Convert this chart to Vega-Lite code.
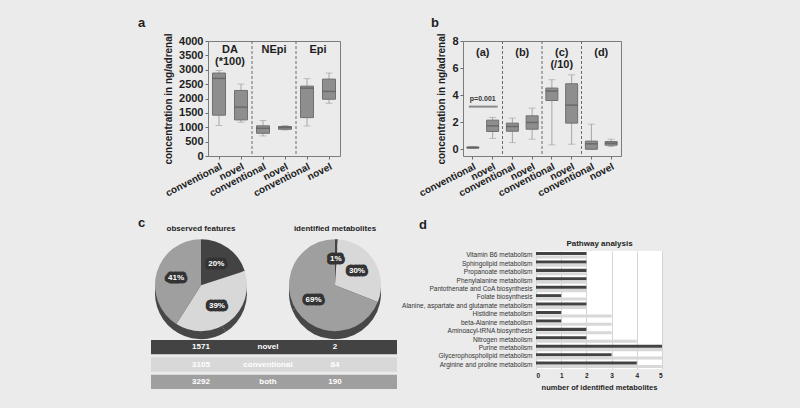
{
  "$schema": "https://vega.github.io/schema/vega-lite/v6.json",
  "background": "#ebebeb",
  "padding": {"left": 137, "top": 16, "right": 137, "bottom": 17},
  "config": {
    "font": "Liberation Sans",
    "view": {"stroke": null},
    "axis": {"labelColor": "#1e1e1e", "titleColor": "#1e1e1e", "tickColor": "#6e6e6e", "domainColor": "#6e6e6e"},
    "axisYQuantitative": {"labelOverlap": false, "format": "d", "grid": false, "domain": false, "tickSize": 3, "labelFontSize": 11, "labelFontWeight": "bold", "titleFontSize": 10, "titleFontWeight": "bold", "labelPadding": 2, "titlePadding": 5},
    "title": {"color": "#1e1e1e", "fontSize": 13, "fontWeight": "bold", "anchor": "start", "frame": "group", "baseline": "alphabetic"}
  },
  "spacing": 18,
  "vconcat": [
    {
      "bounds": "flush",
      "spacing": 123,
      "hconcat": [
        {
          "width": 132, "height": 115,
          "view": {"stroke": "#7c7c7c"},
          "title": {"text": "a", "dx": -70, "offset": 3},
          "data": {"values": [
            {"id": "DA|conventional", "lo": 1060, "q1": 1420, "med": 2700, "q3": 2885, "hi": 2975},
            {"id": "DA|novel", "lo": 1175, "q1": 1255, "med": 1700, "q3": 2280, "hi": 2500},
            {"id": "NEpi|conventional", "lo": 700, "q1": 790, "med": 965, "q3": 1050, "hi": 1235},
            {"id": "NEpi|novel", "lo": 905, "q1": 930, "med": 990, "q3": 1025, "hi": 1060},
            {"id": "Epi|conventional", "lo": 1045, "q1": 1335, "med": 2360, "q3": 2430, "hi": 2690},
            {"id": "Epi|novel", "lo": 1835, "q1": 1975, "med": 2245, "q3": 2675, "hi": 2885}
          ]},
          "encoding": {
            "x": {"field": "id", "type": "nominal",
              "scale": {"domain": ["DA|conventional", "DA|novel", "NEpi|conventional", "NEpi|novel", "Epi|conventional", "Epi|novel"], "paddingInner": 0, "paddingOuter": 0},
              "axis": {"title": null, "labelExpr": "split(datum.value, '|')[1]", "labelAngle": -27, "labelFontSize": 10, "labelFontWeight": "bold", "tickSize": 3, "domain": false, "labelPadding": 2}}
          },
          "layer": [
            {"mark": {"type": "rule", "color": "#a6a6a6", "strokeWidth": 1},
             "encoding": {
               "y": {"field": "lo", "type": "quantitative", "scale": {"domain": [0, 4000], "nice": false},
                 "axis": {"title": "concentration in ng/adrenal", "values": [0, 500, 1000, 1500, 2000, 2500, 3000, 3500, 4000], "labelOverlap": false}},
               "y2": {"field": "hi"}}},
            {"mark": {"type": "tick", "color": "#a6a6a6", "size": 7, "thickness": 1},
             "encoding": {"y": {"field": "lo", "type": "quantitative", "axis": null}}},
            {"mark": {"type": "tick", "color": "#a6a6a6", "size": 7, "thickness": 1},
             "encoding": {"y": {"field": "hi", "type": "quantitative", "axis": null}}},
            {"mark": {"type": "bar", "size": 13, "color": "#8e8e8e", "stroke": "#707070", "strokeWidth": 1},
             "encoding": {"y": {"field": "q1", "type": "quantitative", "axis": null}, "y2": {"field": "q3"}}},
            {"mark": {"type": "tick", "color": "#5a5a5a", "size": 13, "thickness": 1.5},
             "encoding": {"y": {"field": "med", "type": "quantitative", "axis": null}}},
            {"data": {"values": [{"id": "DA|novel"}, {"id": "NEpi|novel"}]},
             "mark": {"type": "rule", "color": "#6a6a6a", "strokeDash": [3, 2], "strokeWidth": 1, "xOffset": 11}},
            {"data": {"values": [{"id": "DA|conventional", "label": "DA\n(*100)"}, {"id": "NEpi|conventional", "label": "NEpi"}, {"id": "Epi|conventional", "label": "Epi"}]},
             "mark": {"type": "text", "fontSize": 11, "fontWeight": "bold", "baseline": "top", "lineBreak": "\n", "lineHeight": 12, "color": "#1e1e1e", "xOffset": 11},
             "encoding": {"y": {"datum": 3880, "type": "quantitative", "axis": null}, "text": {"field": "label"}}}
          ],
          "resolve": {"axis": {"y": "independent"}}
        },
        {
          "width": 158, "height": 115,
          "view": {"stroke": "#7c7c7c"},
          "title": {"text": "b", "dx": -32, "offset": 3},
          "data": {"values": [
            {"id": "(a)|conventional", "lo": 0.07, "q1": 0.08, "med": 0.12, "q3": 0.17, "hi": 0.19},
            {"id": "(a)|novel", "lo": 0.8, "q1": 1.31, "med": 1.73, "q3": 2.15, "hi": 2.35},
            {"id": "(b)|conventional", "lo": 0.49, "q1": 1.33, "med": 1.68, "q3": 1.93, "hi": 2.3},
            {"id": "(b)|novel", "lo": 0.74, "q1": 1.48, "med": 1.98, "q3": 2.47, "hi": 3.04},
            {"id": "(c)|conventional", "lo": 0.32, "q1": 3.6, "med": 4.3, "q3": 4.52, "hi": 5.14},
            {"id": "(c)|novel", "lo": 0.37, "q1": 1.93, "med": 3.26, "q3": 4.84, "hi": 5.5},
            {"id": "(d)|conventional", "lo": 0, "q1": 0, "med": 0.4, "q3": 0.6, "hi": 1.85},
            {"id": "(d)|novel", "lo": 0.2, "q1": 0.3, "med": 0.44, "q3": 0.57, "hi": 0.74}
          ]},
          "encoding": {
            "x": {"field": "id", "type": "nominal",
              "scale": {"domain": ["(a)|conventional", "(a)|novel", "(b)|conventional", "(b)|novel", "(c)|conventional", "(c)|novel", "(d)|conventional", "(d)|novel"], "paddingInner": 0, "paddingOuter": 0},
              "axis": {"title": null, "labelExpr": "split(datum.value, '|')[1]", "labelAngle": -27, "labelFontSize": 10, "labelFontWeight": "bold", "tickSize": 3, "domain": false, "labelPadding": 2}}
          },
          "layer": [
            {"mark": {"type": "rule", "color": "#a6a6a6", "strokeWidth": 1},
             "encoding": {
               "y": {"field": "lo", "type": "quantitative", "scale": {"domain": [-0.5, 8], "nice": false, "zero": false},
                 "axis": {"title": "concentration in ng/adrenal", "values": [0, 2, 4, 6, 8], "labelOverlap": false}},
               "y2": {"field": "hi"}}},
            {"mark": {"type": "tick", "color": "#a6a6a6", "size": 7, "thickness": 1},
             "encoding": {"y": {"field": "lo", "type": "quantitative", "axis": null}}},
            {"mark": {"type": "tick", "color": "#a6a6a6", "size": 7, "thickness": 1},
             "encoding": {"y": {"field": "hi", "type": "quantitative", "axis": null}}},
            {"mark": {"type": "bar", "size": 12, "color": "#8e8e8e", "stroke": "#707070", "strokeWidth": 1},
             "encoding": {"y": {"field": "q1", "type": "quantitative", "axis": null}, "y2": {"field": "q3"}}},
            {"mark": {"type": "tick", "color": "#5a5a5a", "size": 12, "thickness": 1.5},
             "encoding": {"y": {"field": "med", "type": "quantitative", "axis": null}}},
            {"data": {"values": [{"id": "(a)|novel"}, {"id": "(b)|novel"}, {"id": "(c)|novel"}]},
             "mark": {"type": "rule", "color": "#6a6a6a", "strokeDash": [3, 2], "strokeWidth": 1, "xOffset": 9.875}},
            {"data": {"values": [{"id": "(a)|conventional", "label": "(a)"}, {"id": "(b)|conventional", "label": "(b)"}, {"id": "(c)|conventional", "label": "(c)\n(/10)"}, {"id": "(d)|conventional", "label": "(d)"}]},
             "mark": {"type": "text", "fontSize": 11, "fontWeight": "bold", "baseline": "top", "lineBreak": "\n", "lineHeight": 12, "color": "#1e1e1e", "xOffset": 9.875},
             "encoding": {"y": {"datum": 7.58, "type": "quantitative", "axis": null}, "text": {"field": "label"}}},
            {"data": {"values": [{"id": "(a)|conventional", "test": "p=0.001"}]},
             "mark": {"type": "rule", "color": "#8a8a8a", "strokeWidth": 2, "xOffset": -4, "x2Offset": 5},
             "encoding": {"x2": {"datum": "(a)|novel"}, "y": {"datum": 3.15, "type": "quantitative", "axis": null}}},
            {"data": {"values": [{"id": "(a)|conventional", "test": "p=0.001"}]},
             "mark": {"type": "text", "fontSize": 7, "fontWeight": "bold", "baseline": "middle", "color": "#333", "xOffset": 9.875},
             "encoding": {"y": {"datum": 3.7, "type": "quantitative", "axis": null}, "text": {"field": "test"}}}
          ],
          "resolve": {"axis": {"y": "independent"}}
        }
      ]
    },
    {
      "bounds": "flush",
      "spacing": 139,
      "hconcat": [
        {
          "width": 189, "height": 138,
          "title": {"text": "c", "dx": -70, "offset": -5},
          "data": {"values": [
            {"row": "novel", "observed": "1571", "identified": "2", "obsPct": 20, "idPct": 1, "obsLabel": "20%", "idLabel": "1%"},
            {"row": "conventional", "observed": "3105", "identified": "84", "obsPct": 39, "idPct": 30, "obsLabel": "39%", "idLabel": "30%"},
            {"row": "both", "observed": "3292", "identified": "190", "obsPct": 41, "idPct": 69, "obsLabel": "41%", "idLabel": "69%"}
          ]},
          "layer": [
            {"mark": {"type": "rect", "xOffset": -50, "x2Offset": 62},
             "encoding": {
               "x": {"datum": "observed features", "type": "nominal", "scale": {"type": "point", "domain": ["observed features", "category", "identified metabolites"], "range": [-7, 127], "padding": 0}, "axis": null},
               "x2": {"datum": "identified metabolites"},
               "y": {"field": "row", "type": "nominal", "scale": {"type": "band", "domain": ["novel", "conventional", "both"], "range": [89, 138], "paddingInner": 0.176, "paddingOuter": 0}, "axis": null},
               "color": {"field": "row", "type": "nominal", "scale": {"domain": ["novel", "conventional", "both"], "range": ["#434343", "#d8d8d8", "#9f9f9f"]}, "legend": null}}},
            {"mark": {"type": "text", "color": "white", "fontSize": 8, "fontWeight": "bold"},
             "encoding": {"x": {"datum": "observed features", "type": "nominal", "axis": null}, "y": {"field": "row", "type": "nominal", "axis": null}, "text": {"field": "observed"}}},
            {"mark": {"type": "text", "color": "white", "fontSize": 8, "fontWeight": "bold"},
             "encoding": {"x": {"datum": "category", "type": "nominal", "axis": null}, "y": {"field": "row", "type": "nominal", "axis": null}, "text": {"field": "row"}}},
            {"mark": {"type": "text", "color": "white", "fontSize": 8, "fontWeight": "bold"},
             "encoding": {"x": {"datum": "identified metabolites", "type": "nominal", "axis": null}, "y": {"field": "row", "type": "nominal", "axis": null}, "text": {"field": "identified"}}},

            {"mark": {"type": "arc", "outerRadius": 46, "color": "#474747", "yOffset": -54},
             "encoding": {"theta": {"field": "obsPct", "type": "quantitative", "stack": true}, "detail": {"field": "row"}, "x": {"datum": "observed features", "type": "nominal", "axis": null}, "y": {"datum": "novel", "type": "nominal", "axis": null}}},
            {"mark": {"type": "arc", "outerRadius": 46, "yOffset": -62},
             "encoding": {"theta": {"field": "obsPct", "type": "quantitative", "stack": true}, "color": {"field": "row", "type": "nominal", "legend": null}, "order": {"field": "row", "sort": "descending"}, "x": {"datum": "observed features", "type": "nominal", "axis": null}, "y": {"datum": "novel", "type": "nominal", "axis": null}}},
            {"mark": {"type": "text", "radius": 26, "yOffset": -62, "fontSize": 8, "fontWeight": "bold", "fill": "#333", "stroke": "#333", "strokeWidth": 7, "strokeJoin": "round"},
             "encoding": {"theta": {"field": "obsPct", "type": "quantitative", "stack": true}, "detail": {"field": "row"}, "order": {"field": "row", "sort": "descending"}, "x": {"datum": "observed features", "type": "nominal", "axis": null}, "y": {"datum": "novel", "type": "nominal", "axis": null}, "text": {"field": "obsLabel"}}},
            {"mark": {"type": "text", "radius": 26, "yOffset": -62, "fontSize": 8, "fontWeight": "bold", "fill": "white"},
             "encoding": {"theta": {"field": "obsPct", "type": "quantitative", "stack": true}, "detail": {"field": "row"}, "order": {"field": "row", "sort": "descending"}, "x": {"datum": "observed features", "type": "nominal", "axis": null}, "y": {"datum": "novel", "type": "nominal", "axis": null}, "text": {"field": "obsLabel"}}},

            {"mark": {"type": "arc", "outerRadius": 46, "color": "#474747", "yOffset": -54},
             "encoding": {"theta": {"field": "idPct", "type": "quantitative", "stack": true}, "detail": {"field": "row"}, "x": {"datum": "identified metabolites", "type": "nominal", "axis": null}, "y": {"datum": "novel", "type": "nominal", "axis": null}}},
            {"mark": {"type": "arc", "outerRadius": 46, "yOffset": -62},
             "encoding": {"theta": {"field": "idPct", "type": "quantitative", "stack": true}, "color": {"field": "row", "type": "nominal", "legend": null}, "order": {"field": "row", "sort": "descending"}, "x": {"datum": "identified metabolites", "type": "nominal", "axis": null}, "y": {"datum": "novel", "type": "nominal", "axis": null}}},
            {"mark": {"type": "text", "radius": 26, "yOffset": -62, "fontSize": 8, "fontWeight": "bold", "fill": "#333", "stroke": "#333", "strokeWidth": 7, "strokeJoin": "round"},
             "encoding": {"theta": {"field": "idPct", "type": "quantitative", "stack": true}, "detail": {"field": "row"}, "order": {"field": "row", "sort": "descending"}, "x": {"datum": "identified metabolites", "type": "nominal", "axis": null}, "y": {"datum": "novel", "type": "nominal", "axis": null}, "text": {"field": "idLabel"}}},
            {"mark": {"type": "text", "radius": 26, "yOffset": -62, "fontSize": 8, "fontWeight": "bold", "fill": "white"},
             "encoding": {"theta": {"field": "idPct", "type": "quantitative", "stack": true}, "detail": {"field": "row"}, "order": {"field": "row", "sort": "descending"}, "x": {"datum": "identified metabolites", "type": "nominal", "axis": null}, "y": {"datum": "novel", "type": "nominal", "axis": null}, "text": {"field": "idLabel"}}},

            {"data": {"values": [{"t": "observed features"}, {"t": "identified metabolites"}]},
             "mark": {"type": "text", "fontSize": 8, "fontWeight": "bold", "yOffset": -118, "color": "#1e1e1e"},
             "encoding": {"x": {"field": "t", "type": "nominal", "axis": null}, "y": {"datum": "novel", "type": "nominal", "axis": null}, "text": {"field": "t"}}}
          ]
        },
        {
          "width": 126, "height": 118,
          "view": {"fill": "white", "stroke": null},
          "title": {"text": "d", "dx": -117, "offset": 7},
          "data": {"values": [
            {"pathway": "Vitamin B6 metabolism", "series": "novel", "n": 2},
            {"pathway": "Vitamin B6 metabolism", "series": "conventional", "n": 2},
            {"pathway": "Sphingolipid metabolism", "series": "novel", "n": 2},
            {"pathway": "Sphingolipid metabolism", "series": "conventional", "n": 2},
            {"pathway": "Propanoate metabolism", "series": "novel", "n": 2},
            {"pathway": "Propanoate metabolism", "series": "conventional", "n": 2},
            {"pathway": "Phenylalanine metabolism", "series": "novel", "n": 2},
            {"pathway": "Phenylalanine metabolism", "series": "conventional", "n": 2},
            {"pathway": "Pantothenate and CoA biosynthesis", "series": "novel", "n": 2},
            {"pathway": "Pantothenate and CoA biosynthesis", "series": "conventional", "n": 2},
            {"pathway": "Folate biosynthesis", "series": "novel", "n": 1},
            {"pathway": "Folate biosynthesis", "series": "conventional", "n": 2},
            {"pathway": "Alanine, aspartate and glutamate metabolism", "series": "novel", "n": 2},
            {"pathway": "Alanine, aspartate and glutamate metabolism", "series": "conventional", "n": 2},
            {"pathway": "Histidine metabolism", "series": "novel", "n": 1},
            {"pathway": "Histidine metabolism", "series": "conventional", "n": 3},
            {"pathway": "beta-Alanine metabolism", "series": "novel", "n": 1},
            {"pathway": "beta-Alanine metabolism", "series": "conventional", "n": 3},
            {"pathway": "Aminoacyl-tRNA biosynthesis", "series": "novel", "n": 2},
            {"pathway": "Aminoacyl-tRNA biosynthesis", "series": "conventional", "n": 3},
            {"pathway": "Nitrogen metabolism", "series": "novel", "n": 2},
            {"pathway": "Nitrogen metabolism", "series": "conventional", "n": 4},
            {"pathway": "Purine metabolism", "series": "novel", "n": 5},
            {"pathway": "Purine metabolism", "series": "conventional", "n": 5},
            {"pathway": "Glycerophospholipid metabolism", "series": "novel", "n": 3},
            {"pathway": "Glycerophospholipid metabolism", "series": "conventional", "n": 5},
            {"pathway": "Arginine and proline metabolism", "series": "novel", "n": 4},
            {"pathway": "Arginine and proline metabolism", "series": "conventional", "n": 5}
          ]},
          "encoding": {
            "y": {"field": "pathway", "type": "nominal", "sort": null,
              "scale": {"domain": ["Vitamin B6 metabolism", "Sphingolipid metabolism", "Propanoate metabolism", "Phenylalanine metabolism", "Pantothenate and CoA biosynthesis", "Folate biosynthesis", "Alanine, aspartate and glutamate metabolism", "Histidine metabolism", "beta-Alanine metabolism", "Aminoacyl-tRNA biosynthesis", "Nitrogen metabolism", "Purine metabolism", "Glycerophospholipid metabolism", "Arginine and proline metabolism"], "paddingInner": 0.24, "paddingOuter": 0.12},
              "axis": {"title": null, "labelFontSize": 6.5, "ticks": false, "domain": false, "labelColor": "#333", "labelPadding": 4, "labelLimit": 250}}
          },
          "layer": [
            {"mark": {"type": "bar"},
             "encoding": {
               "yOffset": {"field": "series", "type": "nominal", "scale": {"domain": ["novel", "conventional"], "paddingInner": 0.1}},
               "x": {"field": "n", "type": "quantitative", "scale": {"domain": [0, 5], "nice": false},
                 "axis": {"title": "number of identified metabolites", "values": [0, 1, 2, 3, 4, 5], "grid": true, "gridColor": "#d5d5d5", "labelFontSize": 6.5, "labelFontWeight": "bold", "labelColor": "#1e1e1e", "titleFontSize": 7.5, "titleFontWeight": "bold", "ticks": false, "domain": false, "labelPadding": 3, "titlePadding": 5}},
               "color": {"field": "series", "type": "nominal", "scale": {"domain": ["novel", "conventional"], "range": ["#454545", "#d3d3d3"]}, "legend": null}}},
            {"mark": {"type": "point", "opacity": 0},
             "encoding": {
               "x": {"field": "n", "type": "quantitative", "axis": {"orient": "top", "title": "Pathway analysis", "labels": false, "ticks": false, "domain": false, "grid": false, "titleFontSize": 8, "titleFontWeight": "bold", "titlePadding": 4}}}}
          ],
          "resolve": {"axis": {"x": "independent"}}
        }
      ]
    }
  ]
}
